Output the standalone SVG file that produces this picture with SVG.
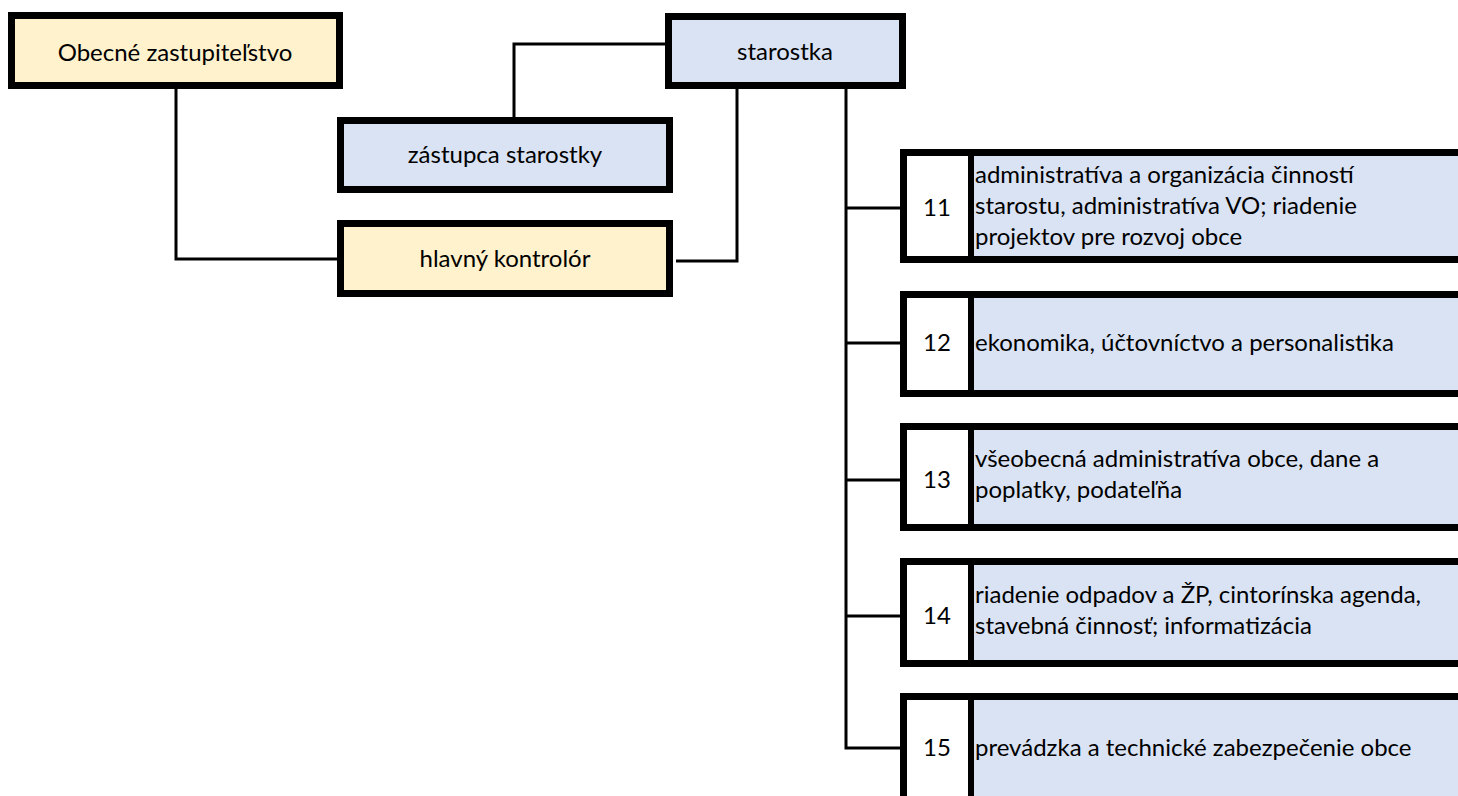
<svg xmlns="http://www.w3.org/2000/svg" width="1458" height="796" viewBox="0 0 1458 796">
<style>
.box{stroke:#000;stroke-width:7}
.y{fill:#FFF2CC}
.b{fill:#DAE3F3}
.w{fill:#FFFFFF}
.div{stroke:#000;stroke-width:6}
.t{font-family:Lato,"Liberation Sans",sans-serif;font-size:24px;fill:#000}
.c{text-anchor:middle}
.con{fill:none;stroke:#000;stroke-width:3}
</style>
<rect width="1458" height="796" fill="#fff"/>
<g id="connectors">
<polyline class="con" points="176,89 176,259 340,259"/>
<polyline class="con" points="668,44 514,44 514,120"/>
<polyline class="con" points="737,89 737,261 676,261"/>
<polyline class="con" points="846,89 846,748 903,748"/>
<line class="con" x1="846" y1="208" x2="903" y2="208"/>
<line class="con" x1="846" y1="343" x2="903" y2="343"/>
<line class="con" x1="846" y1="480" x2="903" y2="480"/>
<line class="con" x1="846" y1="616" x2="903" y2="616"/>
</g>
<g id="obecne-zastupitelstvo">
<rect class="box y" x="11.5" y="15.5" width="328" height="70"/>
<text class="t c" x="175" y="61">Obecné zastupiteľstvo</text>
</g>
<g id="starostka">
<rect class="box b" x="668.5" y="16.5" width="234" height="69"/>
<text class="t c" x="785" y="60">starostka</text>
</g>
<g id="zastupca-starostky">
<rect class="box b" x="340.5" y="120.5" width="329" height="69"/>
<text class="t c" x="505" y="163">zástupca starostky</text>
</g>
<g id="hlavny-kontrolor">
<rect class="box y" x="340.5" y="223.5" width="329" height="70"/>
<text class="t c" x="505" y="267">hlavný kontrolór</text>
</g>
<g id="dept-11">
<rect class="box b" x="903.5" y="152.5" width="600" height="107"/>
<rect class="w" x="907" y="156" width="61" height="100"/>
<line class="div" x1="971" y1="156" x2="971" y2="257"/>
<text class="t c" x="937" y="216">11</text>
<text class="t" x="975" y="183">administratíva a organizácia činností</text>
<text class="t" x="975" y="214">starostu, administratíva VO; riadenie</text>
<text class="t" x="975" y="245">projektov pre rozvoj obce</text>
</g>
<g id="dept-12">
<rect class="box b" x="903.5" y="294.5" width="600" height="99"/>
<rect class="w" x="907" y="298" width="61" height="92"/>
<line class="div" x1="971" y1="298" x2="971" y2="391"/>
<text class="t c" x="937" y="351">12</text>
<text class="t" x="975" y="351">ekonomika, účtovníctvo a personalistika</text>
</g>
<g id="dept-13">
<rect class="box b" x="903.5" y="426.5" width="600" height="101"/>
<rect class="w" x="907" y="430" width="61" height="94"/>
<line class="div" x1="971" y1="430" x2="971" y2="525"/>
<text class="t c" x="937" y="488">13</text>
<text class="t" x="975" y="467">všeobecná administratíva obce, dane a</text>
<text class="t" x="975" y="498">poplatky, podateľňa</text>
</g>
<g id="dept-14">
<rect class="box b" x="903.5" y="561.5" width="600" height="102"/>
<rect class="w" x="907" y="565" width="61" height="95"/>
<line class="div" x1="971" y1="565" x2="971" y2="661"/>
<text class="t c" x="937" y="624">14</text>
<text class="t" x="975" y="603">riadenie odpadov a ŽP, cintorínska agenda,</text>
<text class="t" x="975" y="634">stavebná činnosť; informatizácia</text>
</g>
<g id="dept-15">
<rect class="box b" x="903.5" y="696.5" width="600" height="120"/>
<rect class="w" x="907" y="700" width="61" height="110"/>
<line class="div" x1="971" y1="700" x2="971" y2="810"/>
<text class="t c" x="937" y="756">15</text>
<text class="t" x="975" y="756">prevádzka a technické zabezpečenie obce</text>
</g>
</svg>
